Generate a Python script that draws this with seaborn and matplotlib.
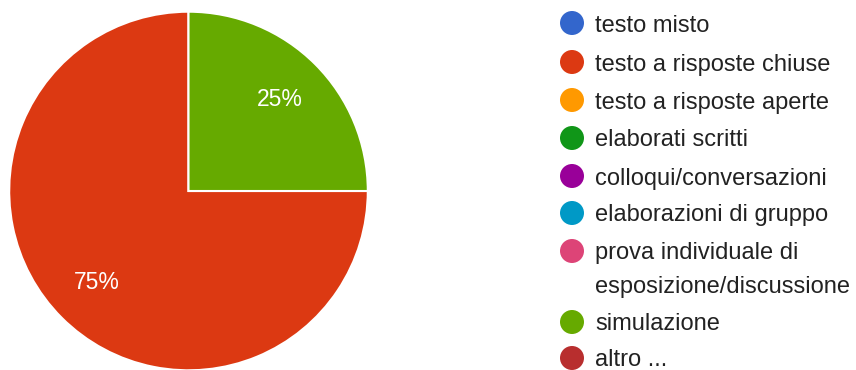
import matplotlib
matplotlib.use("Agg")
import matplotlib.pyplot as plt
from matplotlib.patches import Ellipse
import seaborn as sns

categories = ["testo misto", "testo a risposte chiuse", "testo a risposte aperte",
              "elaborati scritti", "colloqui/conversazioni", "elaborazioni di gruppo",
              "prova individuale di\nesposizione/discussione", "simulazione", "altro ..."]
values = [0, 75, 0, 0, 0, 0, 0, 25, 0]
colors = ["#3366cc", "#dc3912", "#ff9900", "#109618", "#990099", "#0099c6",
          "#dd4477", "#66aa00", "#b82e2e"]

sns.set_theme(style="white")
plt.rcParams["font.family"] = ["Liberation Sans", "DejaVu Sans"]

W, H = 856, 370
fig = plt.figure(figsize=(W / 100, H / 100), dpi=100)

cx, cy, r = 188.5, 191.0, 179.3
ax = fig.add_axes([(cx - r) / W, (H - cy - r) / H, 2 * r / W, 2 * r / H])

nz = [(v, c) for v, c in zip(values, colors) if v > 0]
vals = [v for v, _ in nz]
cols = [c for _, c in nz]
wedges, texts, autotexts = ax.pie(
    vals, colors=cols, startangle=90, counterclock=True,
    autopct=lambda p: f"{p:.0f}%", pctdistance=0.72,
    wedgeprops=dict(edgecolor="white", linewidth=1.5),
    textprops=dict(color="white", fontsize=16.5))
ax.set_xlim(-1, 1)
ax.set_ylim(-1, 1)
ax.set_aspect("equal")
ax.axis("off")

# legend
mx, tx = 572, 595
rows = [23, 62, 100, 138, 176, 213, 251, 322, 358]
for cat, col, y in zip(categories, colors, rows):
    fig.add_artist(Ellipse((mx / W, 1 - y / H), 24 / W, 24 / H, transform=fig.transFigure,
                           facecolor=col, edgecolor="none"))
    lines = cat.split("\n")
    for i, ln in enumerate(lines):
        fig.text(tx / W, 1 - (y + i * 33) / H, ln, fontsize=17, color="#222222",
                 ha="left", va="center_baseline")

fig.savefig("out.png", dpi=100)
